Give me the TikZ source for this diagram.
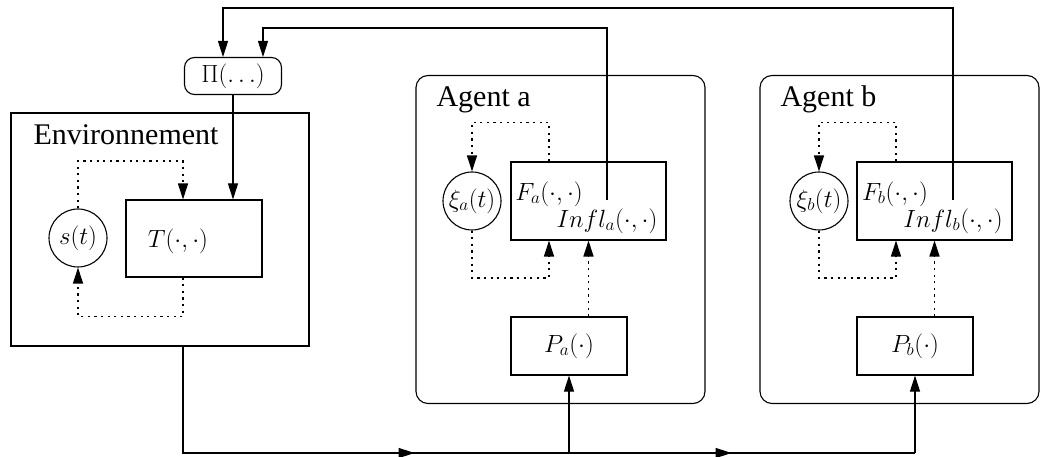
\documentclass[tikz,border=0pt]{standalone}
\usepackage{fontspec}
\setmainfont{Liberation Serif}
\usetikzlibrary{arrows.meta,calc}
\begin{document}
\begin{tikzpicture}[x=1pt,y=-1pt,
  line width=1.1pt,
  arr/.style={-{Triangle[length=16pt,width=10pt]}},
  dotl/.style={line width=1.4pt,dash pattern=on 2.2pt off 4.4pt},
  box/.style={draw,rectangle,inner sep=0pt},
  circ/.style={draw,circle,minimum size=58pt,inner sep=0pt,font=\fontsize{24}{28}\selectfont},
  mth/.style={inner sep=0pt,font=\fontsize{24}{28}\selectfont},
  title/.style={inner sep=0pt,anchor=base west,font=\fontsize{30}{34}\selectfont}]
\useasboundingbox (0,0) rectangle (1042,457);
% outer boxes
\node[box,minimum width=298pt,minimum height=233pt] (env) at (160,229.5) {};
\node[box,rounded corners=12pt,minimum width=289pt,minimum height=328pt] (agA) at (560.5,239.5) {};
\node[box,rounded corners=12pt,minimum width=279pt,minimum height=328pt] (agB) at (899.5,239.5) {};
\node[title] (envt) at (33,145) {Environnement};
\node[title] (agAt) at (436,107) {Agent a};
\node[title] (agBt) at (780,107) {Agent b};
% Pi
\node[box,rounded corners=10pt,minimum width=97pt,minimum height=37pt,font=\fontsize{24}{28}\selectfont] (pi) at (233,76) {$\Pi(\ldots)$};
% environment
\node[box,minimum width=136pt,minimum height=77pt] (T) at (194,238.5) {};
\node[mth] (Tl) at (178,241) {$T(\cdot,\cdot)$};
\node[circ] (s) at (78,238) {$s(t)$};
% agent a
\node[box,minimum width=155pt,minimum height=78pt] (Fa) at (588.5,201) {};
\node[mth] (Fal) at (549,194) {$F_a(\cdot,\cdot)$};
\node[mth] (Ial) at (607,221) {$Infl_a(\cdot,\cdot)$};
\node[circ] (xa) at (472,201) {$\xi_a(t)$};
\node[box,minimum width=116pt,minimum height=58pt] (Pa) at (569,346) {};
\node[mth] (Pal) at (569,346) {$P_a(\cdot)$};
% agent b
\node[box,minimum width=155pt,minimum height=78pt] (Fb) at (934.5,201) {};
\node[mth] (Fbl) at (895,194) {$F_b(\cdot,\cdot)$};
\node[mth] (Ibl) at (953,221) {$Infl_b(\cdot,\cdot)$};
\node[circ] (xb) at (819,201) {$\xi_b(t)$};
\node[box,minimum width=116pt,minimum height=58pt] (Pb) at (915,346) {};
\node[mth] (Pbl) at (915,346) {$P_b(\cdot)$};
% influence lines to Pi
\coordinate (ia) at (607,200);
\coordinate (ib) at (953,200);
\draw[arr] (ib) -- (ib |- 0,8) -| ([xshift=-10pt]pi.north);
\draw[arr] (ia) -- (ia |- 0,28) -| ([xshift=30pt]pi.north);
\draw[arr] (pi.south) -- (pi.south |- T.north);
% environment dotted loop
\draw[dotl,arr] (s.north) -- (s.north |- 0,161) -| ([xshift=-11pt]T.north);
\draw[dotl,arr] ([xshift=-11pt]T.south) -- ++(0,39) -| (s.south);
% agent a loops
\draw[dotl,arr] ([xshift=-39.5pt]Fa.north) -- ++(0,-39) -| (xa.north);
\draw[dotl,arr] (xa.south) -- (xa.south |- 0,278) -| ([xshift=-39.5pt]Fa.south);
\draw[dotl,arr] (Fa.south |- Pa.north) -- (Fa.south);
% agent b loops
\draw[dotl,arr] ([xshift=-38.5pt]Fb.north) -- ++(0,-39) -| (xb.north);
\draw[dotl,arr] (xb.south) -- (xb.south |- 0,278) -| ([xshift=-38.5pt]Fb.south);
\draw[dotl,arr] (Fb.south |- Pb.north) -- (Fb.south);
% bottom perception line
\coordinate (out) at ([xshift=-11pt]T.south |- env.south);
\coordinate (b0) at (out |- 0,453);
\coordinate (bA) at (Pa.south |- b0);
\coordinate (bB) at (Pb.south |- b0);
\draw (out) -- (b0) -- (bB);
\draw[arr] (b0) -- ($(b0)!0.6!(bA)$);
\draw[arr] (bA) -- ($(bA)!0.47!(bB)$);
\draw[arr] (bA) -- (Pa.south);
\draw[arr] (bB) -- (Pb.south);
\end{tikzpicture}
\end{document}
